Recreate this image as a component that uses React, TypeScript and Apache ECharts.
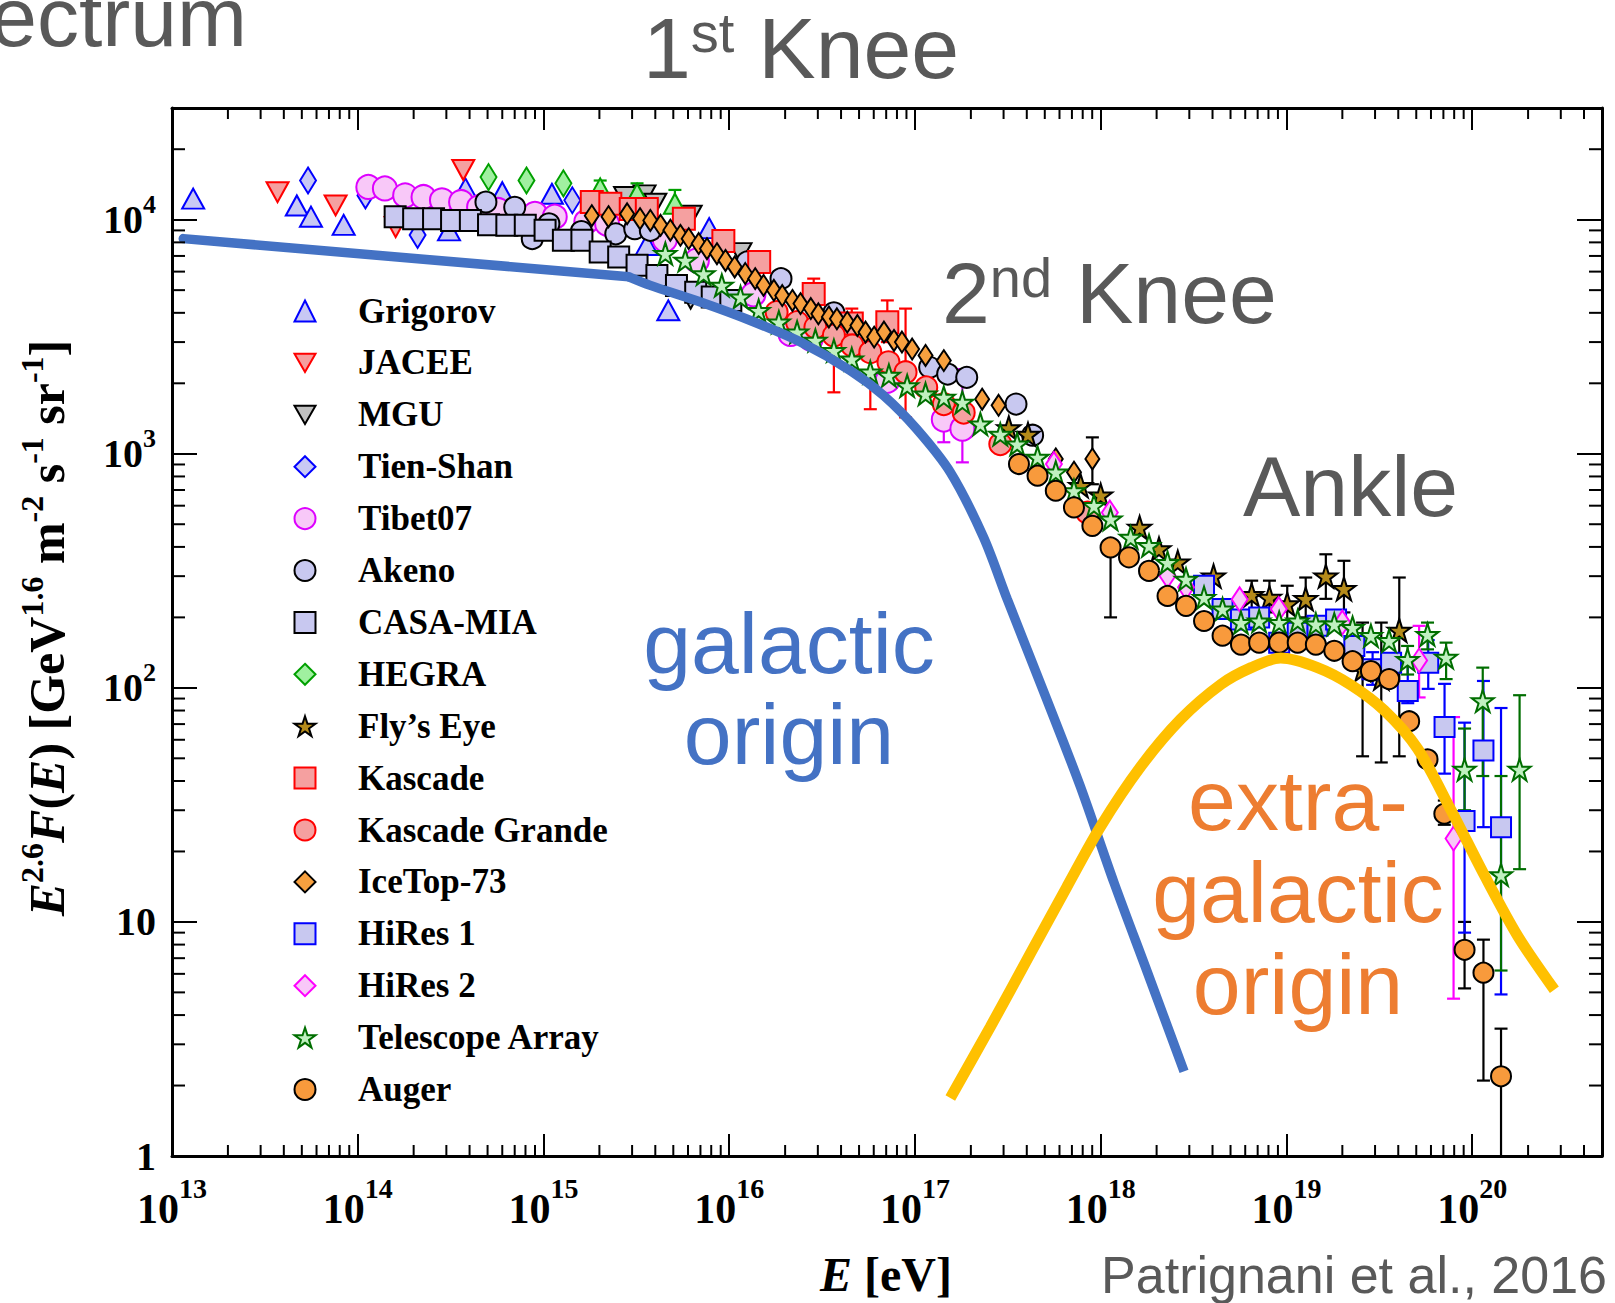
import React, { useEffect, useRef } from "react";
import * as echarts from "echarts";

const SERIF = "'Liberation Serif', 'Times New Roman', serif";
const SANS = "'Liberation Sans', Arial, sans-serif";
const GRAY = "#595959";

const X_MIN = 1e13;
const X_MAX = 5e20;
const Y_MIN = 1;
const Y_MAX = 3e4;

// Measurements: [E (eV), E^2.6 F(E)]
const grigorov = [[1.3e13, 12300], [4.7e13, 11500], [5.6e13, 10300], [8.4e13, 9500], [3.1e14, 9000], [3.8e14, 13600], [6.0e14, 13100], [1.11e15, 12900], [3.6e15, 7800], [4.7e15, 4100], [7.8e15, 9200]];
const jacee = [[3.7e13, 13100], [7.6e13, 11500], [1.6e14, 9300], [3.7e14, 16300]];
const mgu = [[2.75e15, 12500], [3.5e15, 12700], [4.0e15, 11700], [6.2e15, 10400], [6.2e15, 4600], [1.15e16, 7200]];
const tienShan = [[5.4e13, 14700], [1.1e14, 12700], [2.1e14, 8600], [1.43e15, 12100]];
const tibet07 = [[1.14e14, 13800], [1.4e14, 13600], [1.8e14, 12700], [2.26e14, 12500], [2.84e14, 12100], [3.6e14, 11900], [4.5e14, 11300], [5.7e14, 11000], [9.0e14, 10600], [1.15e15, 10300], [1.7e15, 9800], [2.2e15, 9600], [4.5e15, 8200], [6.7e15, 6700], [1.35e16, 4800], [2.14e16, 3250], [2.75e16, 3100], [7.1e16, 2050], [1.43e17, 1400], [1.8e17, 1280]];
const akeno = [[4.9e14, 11900], [7.0e14, 11300], [8.7e14, 8300], [1.07e15, 9600], [1.6e15, 8900], [2.45e15, 8700], [3.1e15, 9150], [3.76e15, 9000], [1.25e16, 6600], [1.9e16, 5600], [3.66e16, 4000], [1.2e17, 2340], [1.5e17, 2190], [1.9e17, 2120], [3.5e17, 1630], [4.3e17, 1200]];
const casaMia = [[1.59e14, 10300], [2.0e14, 10100], [2.56e14, 10100], [3.2e14, 9930], [4.04e14, 9930], [5.06e14, 9520], [6.35e14, 9460], [7.98e14, 9460], [1.02e15, 9010], [1.28e15, 8170], [1.61e15, 8170], [2.02e15, 7280], [2.54e15, 6920], [3.19e15, 6380], [4.08e15, 5780], [5.2e15, 5240], [6.6e15, 4900], [8.1e15, 4670], [1.02e16, 4520]];
const hegra = [[5.06e14, 15200], [8.1e14, 14700], [1.28e15, 14300]];
const hegraTriangles = [[2.02e15, 13600], [3.19e15, 12900], [5.1e15, 11700]];
const flysEye = [[3.2e17, 1290], [4.06e17, 1210], [7.8e17, 730], [1.0e18, 665], [1.62e18, 484], [2.06e18, 392], [2.6e18, 344], [4.05e18, 300], [6.5e18, 250], [8.1e18, 243], [1.01e19, 228], [1.27e19, 240], [1.63e19, 300], [2.04e19, 265], [2.57e19, 120], [3.24e19, 110], [4.05e19, 176]];
const kascade = [[1.82e15, 11900], [2.29e15, 11700], [2.95e15, 11100], [3.6e15, 11100], [5.7e15, 10100], [9.3e15, 8100], [1.45e16, 6600], [2.85e16, 4820], [4.57e16, 3600], [7.1e16, 3650]];
const kascadeGrande = [[1.8e16, 4030], [2.32e16, 3650], [2.91e16, 3470], [3.66e16, 3200], [4.6e16, 2900], [5.75e16, 2715], [7.2e16, 2460], [8.9e16, 2230], [1.15e17, 1920], [1.43e17, 1630], [1.83e17, 1500], [2.88e17, 1100], [8.5e17, 560]];
const iceTop73 = [[1.82e15, 10400], [2.24e15, 10300], [2.82e15, 10600], [3.31e15, 10100], [3.76e15, 9930], [4.27e15, 9460], [4.82e15, 9020], [5.46e15, 8570], [6.05e15, 8300], [6.85e15, 7910], [7.59e15, 7520], [8.59e15, 7160], [9.55e15, 6700], [1.07e16, 6280], [1.22e16, 5890], [1.38e16, 5600], [1.53e16, 5240], [1.74e16, 4990], [1.93e16, 4740], [2.19e16, 4520], [2.42e16, 4380], [2.75e16, 4170], [3.02e16, 3960], [3.44e16, 3840], [3.8e16, 3770], [4.32e16, 3650], [4.9e16, 3530], [5.42e16, 3310], [6.03e16, 3150], [6.81e16, 3310], [7.71e16, 3050], [8.51e16, 3000], [9.66e16, 2800], [1.14e17, 2630], [1.43e17, 2500], [2.3e17, 1710], [2.82e17, 1610], [5.73e17, 950], [7.18e17, 834], [9.02e17, 950]];
const hiRes1 = [[3.6e18, 273], [4.53e18, 217], [5.69e18, 196], [7.13e18, 200], [9.14e18, 156], [1.15e19, 172], [1.47e19, 184], [1.85e19, 196], [2.32e19, 151], [2.91e19, 120], [3.66e19, 128], [4.5e19, 97], [5.8e19, 128], [7.1e19, 68], [9.1e19, 27], [1.15e20, 54], [1.43e20, 25.4]];
const hiRes2 = [[5.6e17, 904], [1.12e18, 561], [2.29e18, 301], [2.88e18, 269], [5.6e18, 239], [9.1e18, 217], [2.0e19, 190], [5.18e19, 131], [7.94e19, 22.7]];
const telescopeArray = [[4.53e15, 7160], [5.8e15, 6700], [7.28e15, 5870], [9.12e15, 5240], [1.15e16, 4670], [1.44e16, 4090], [1.85e16, 3650], [2.32e16, 3310], [2.91e16, 3050], [3.66e16, 2760], [4.57e16, 2540], [5.75e16, 2230], [7.24e16, 2160], [9.08e16, 1950], [1.14e17, 1800], [1.43e17, 1740], [1.8e17, 1660], [2.25e17, 1340], [2.88e17, 1210], [3.55e17, 1100], [4.57e17, 966], [5.73e17, 834], [7.18e17, 695], [9.2e17, 600], [1.13e18, 526], [1.45e18, 439], [1.82e18, 405], [2.29e18, 343], [2.88e18, 291], [3.6e18, 243], [4.53e18, 217], [5.69e18, 190], [7.13e18, 193], [9.14e18, 190], [1.15e19, 193], [1.44e19, 187], [1.81e19, 187], [2.27e19, 181], [2.85e19, 167], [3.57e19, 159], [4.49e19, 132], [5.75e19, 169], [7.24e19, 135], [9.1e19, 44.8], [1.14e20, 88], [1.43e20, 15.9], [1.8e20, 44.8]];
const auger = [[3.63e17, 904], [4.57e17, 806], [5.73e17, 695], [7.18e17, 590], [9.02e17, 492], [1.13e18, 398], [1.42e18, 361], [1.82e18, 316], [2.29e18, 247], [2.88e18, 224], [3.6e18, 193], [4.53e18, 167], [5.69e18, 153], [7.13e18, 156], [9.14e18, 156], [1.15e19, 156], [1.44e19, 153], [1.81e19, 144], [2.27e19, 130], [2.85e19, 118], [3.57e19, 109], [4.58e19, 72], [5.75e19, 49.5], [7.08e19, 29], [9.1e19, 7.6], [1.15e20, 6.07], [1.43e20, 2.19]];

// Uncertainties: [E, low, high]
const hegraTrianglesErr = [[2.02e15, 12600, 14700], [3.19e15, 12000, 14300], [5.1e15, 10800, 13400]];
const kascadeErr = [[2.85e16, 4200, 5600], [4.57e16, 3100, 4170], [7.1e16, 3000, 4520]];
const kascadeGrandeErr = [[3.66e16, 1830, 3600], [5.75e16, 1550, 3100], [8.9e16, 1430, 4170]];
const tibet07Err = [[1.43e17, 1120, 1700], [1.8e17, 919, 2300]];
const iceTop73Err = [[9.02e17, 741, 1175]];
const flysEyeErr = [[6.5e18, 215, 287], [8.1e18, 210, 287], [1.01e19, 195, 273], [1.27e19, 200, 296], [1.63e19, 240, 372], [2.04e19, 210, 349], [2.57e19, 51, 190], [3.24e19, 48, 190], [4.05e19, 51, 296]];
const augerErr = [[1.13e18, 200, 398], [7.08e19, 26, 33], [9.1e19, 5.2, 10], [1.15e20, 2.1, 8.4], [1.43e20, 1, 3.5]];
const hiRes1Err = [[2.91e19, 103, 142], [4.5e19, 86, 127], [5.8e19, 99, 160], [7.1e19, 43, 104], [9.1e19, 9, 71], [1.15e20, 25.4, 107], [1.43e20, 4.9, 82]];
const hiRes2Err = [[5.18e19, 91, 184], [7.94e19, 4.7, 75]];
const telescopeArrayErr = [[4.49e19, 114, 151], [5.75e19, 146, 190], [7.24e19, 109, 156], [9.1e19, 30, 67], [1.14e20, 42, 122], [1.43e20, 6.2, 42], [1.8e20, 16.8, 93]];

// Model components
const galacticBelowKnee = [[1.15e13, 8300], [2.88e15, 5700]];
const galacticAboveKnee = [[2.88e15, 5700], [3.76e15, 5240], [7.0e15, 4450], [1.3e16, 3710], [2.42e16, 3000], [4.5e16, 2265], [6.8e16, 1770], [1.02e17, 1277], [1.55e17, 834], [2.34e17, 440], [3.14e17, 239], [5.13e17, 89], [7.76e17, 38], [1.18e18, 14.7], [1.79e18, 6.05], [2.81e18, 2.3]];
const extragalactic = [[1.55e17, 1.77], [2.55e17, 3.57], [4.2e17, 7.37], [6.6e17, 14.2], [1.0e18, 25.6], [1.64e18, 46], [2.69e18, 73.3], [4.44e18, 103.5], [6.46e18, 122], [9.3e18, 134], [1.47e19, 122], [2.22e19, 103], [3.37e19, 80], [5.08e19, 55], [7.7e19, 30], [1.16e20, 15.9], [1.76e20, 8.7], [2.77e20, 5.13]];

// Axis decoration
const minorMultipliers = [2, 3, 4, 5, 6, 7, 8, 9];
const xDecades = [13, 14, 15, 16, 17, 18, 19, 20];
const yDecades = [0, 1, 2, 3, 4];

const STAR = "path://M50,0L61.2,34.5L97.6,34.5L68.2,55.9L79.4,90.5L50,69.1L20.6,90.5L31.8,55.9L2.4,34.5L38.8,34.5Z";
const DOWN_TRI = "path://M0,0L20,0L10,17.3Z";

const scatter = (name: string, data: number[][], symbol: string, size: any, fill: string, stroke: string) => ({
  name,
  type: "scatter",
  data,
  symbol,
  symbolSize: size,
  itemStyle: { color: fill, borderColor: stroke, borderWidth: 2, opacity: 1 },
  emphasis: { disabled: true },
  silent: true,
});

const errorBars = (data: number[][], color: string) => ({
  type: "custom",
  data,
  encode: { x: 0, y: [1, 2] },
  silent: true,
  clip: true,
  renderItem: (params: any, api: any) => {
    const x = api.value(0);
    const lo = api.value(1);
    const hi = api.value(2);
    const pLo = api.coord([x, lo]);
    const pHi = api.coord([x, hi]);
    const style = { stroke: color, lineWidth: 2.2, fill: null };
    const cap = 6.5;
    const children: any[] = [
      { type: "line", shape: { x1: pLo[0], y1: pLo[1], x2: pHi[0], y2: pHi[1] }, style },
      { type: "line", shape: { x1: pHi[0] - cap, y1: pHi[1], x2: pHi[0] + cap, y2: pHi[1] }, style },
    ];
    if (lo > Y_MIN) {
      children.push({ type: "line", shape: { x1: pLo[0] - cap, y1: pLo[1], x2: pLo[0] + cap, y2: pLo[1] }, style });
    }
    return { type: "group", children };
  },
});

const minorTicks: number[][] = [];
xDecades.forEach((d) =>
  minorMultipliers.forEach((m) => {
    const v = m * Math.pow(10, d);
    if (v < X_MAX) minorTicks.push([v, Y_MIN, 0]);
  })
);
yDecades.forEach((d) =>
  minorMultipliers.forEach((m) => {
    const v = m * Math.pow(10, d);
    if (v < Y_MAX) minorTicks.push([X_MIN, v, 1]);
  })
);

const powerOfTen = (v: number) => {
  const l = Math.log10(v);
  const e = Math.round(l);
  return Math.abs(l - e) < 1e-3 ? e : null;
};

const labelRich = (base: number, sup: number, baseLH: number, supLH: number) => ({
  b: { fontFamily: SERIF, fontWeight: "bold", fontSize: base, lineHeight: baseLH, color: "#000" },
  s: { fontFamily: SERIF, fontWeight: "bold", fontSize: sup, lineHeight: supLH, color: "#000", verticalAlign: "top" },
});

const kneeRich = {
  b: { fontFamily: SANS, fontSize: 86, lineHeight: 88, fill: GRAY },
  s: { fontFamily: SANS, fontSize: 56, lineHeight: 56, fill: GRAY, verticalAlign: "top" },
};

const legendNames = ["Grigorov", "JACEE", "MGU", "Tien-Shan", "Tibet07", "Akeno", "CASA-MIA", "HEGRA", "Fly\u2019s Eye", "Kascade", "Kascade Grande", "IceTop-73", "HiRes 1", "HiRes 2", "Telescope Array", "Auger"];

function buildOption() {
  const axisCommon = {
    type: "log",
    logBase: 10,
    splitLine: { show: false },
    minorTick: { show: false },
    axisLine: { show: true, onZero: false, lineStyle: { color: "#000", width: 3 } },
  };
  return {
    animation: false,
    backgroundColor: "#fff",
    textStyle: { fontFamily: SERIF },
    grid: { left: 172, right: 13, top: 108, bottom: 147, containLabel: false },
    xAxis: [
      {
        ...axisCommon,
        min: X_MIN,
        max: X_MAX,
        position: "bottom",
        axisTick: { show: true, inside: true, length: 22, lineStyle: { color: "#000", width: 2 } },
        axisLabel: {
          margin: 18,
          formatter: (v: number) => {
            const e = powerOfTen(v);
            return e === null ? "" : `{b|10}{s|${e}}`;
          },
          rich: labelRich(42, 28, 69, 28),
        },
      },
      {
        ...axisCommon,
        min: X_MIN,
        max: X_MAX,
        position: "top",
        axisTick: { show: true, inside: true, length: 22, lineStyle: { color: "#000", width: 2 } },
        axisLabel: { show: false },
      },
    ],
    yAxis: [
      {
        ...axisCommon,
        min: Y_MIN,
        max: Y_MAX,
        position: "left",
        axisTick: { show: true, inside: true, length: 25, lineStyle: { color: "#000", width: 2 } },
        axisLabel: {
          margin: 16,
          formatter: (v: number) => {
            const e = powerOfTen(v);
            if (e === null) return "";
            if (e === 0) return "{b|1}";
            if (e === 1) return "{b|10}";
            return `{b|10}{s|${e}}`;
          },
          rich: labelRich(40, 26, 57, 26),
        },
      },
      {
        ...axisCommon,
        min: Y_MIN,
        max: Y_MAX,
        position: "right",
        axisTick: { show: true, inside: true, length: 25, lineStyle: { color: "#000", width: 2 } },
        axisLabel: { show: false },
      },
    ],
    legend: {
      orient: "vertical",
      left: 293.5,
      top: 293.5,
      padding: 0,
      itemWidth: 21,
      itemHeight: 21,
      itemGap: 16.9,
      selectedMode: false,
      data: legendNames,
      itemStyle: { borderWidth: 2 },
      formatter: (name: string) => "{g|}" + name,
      textStyle: {
        fontFamily: SERIF,
        fontWeight: "bold",
        fontSize: 35,
        lineHeight: 35,
        color: "#000",
        rich: { g: { width: 37.5 } },
      },
    },
    series: [
      {
        type: "line",
        data: galacticBelowKnee,
        symbol: "none",
        silent: true,
        lineStyle: { color: "#4472c4", width: 9.5, cap: "round" },
      },
      {
        type: "line",
        data: galacticAboveKnee,
        symbol: "none",
        smooth: 0.3,
        silent: true,
        lineStyle: { color: "#4472c4", width: 9.5 },
      },
      {
        type: "line",
        data: extragalactic,
        symbol: "none",
        smooth: 0.3,
        silent: true,
        lineStyle: { color: "#ffc000", width: 11 },
      },
      errorBars(hegraTrianglesErr, "#00a000"),
      errorBars(kascadeErr, "#ff0000"),
      errorBars(kascadeGrandeErr, "#ff0000"),
      errorBars(tibet07Err, "#dd00ff"),
      errorBars(iceTop73Err, "#000"),
      errorBars(flysEyeErr, "#000"),
      errorBars(augerErr, "#000"),
      errorBars(hiRes1Err, "#0000ff"),
      errorBars(hiRes2Err, "#ff00ff"),
      errorBars(telescopeArrayErr, "#006e00"),
      scatter("Grigorov", grigorov, "triangle", [22, 20], "#c8c8f4", "#0000ff"),
      scatter("JACEE", jacee, DOWN_TRI, [22, 20], "#f5a0a0", "#ff0000"),
      scatter("MGU", mgu, DOWN_TRI, [22, 20], "#c0c0c0", "#000"),
      scatter("Tien-Shan", tienShan, "diamond", [16, 26], "#c8c8f4", "#0000ff"),
      scatter("Tibet07", tibet07, "circle", 24, "#f8c8f8", "#dd00ff"),
      scatter("Akeno", akeno, "circle", 21, "#c8c8f0", "#000"),
      scatter("CASA-MIA", casaMia, "rect", 21, "#c8c8f0", "#000"),
      scatter("HEGRA", hegra, "diamond", [16, 26], "#a0f0a0", "#00a000"),
      scatter("HEGRA triangles", hegraTriangles, "triangle", [22, 20], "#a0f0a0", "#00a000"),
      scatter("Fly\u2019s Eye", flysEye, STAR, 23, "#b58b1a", "#000"),
      scatter("Kascade", kascade, "rect", 22, "#f5a0a0", "#ff0000"),
      scatter("Kascade Grande", kascadeGrande, "circle", 22, "#f5a0a0", "#ff0000"),
      scatter("IceTop-73", iceTop73, "diamond", [14, 21], "#f7a03f", "#000"),
      scatter("HiRes 1", hiRes1, "rect", 20, "#c8c8f0", "#0000ff"),
      scatter("HiRes 2", hiRes2, "diamond", [16, 24], "#f8c8f8", "#ff00ff"),
      scatter("Telescope Array", telescopeArray, STAR, 22, "#c0f0c0", "#006e00"),
      scatter("Auger", auger, "circle", 20, "#f89a3c", "#000"),
      {
        type: "custom",
        data: minorTicks,
        encode: { x: 0, y: 1 },
        silent: true,
        clip: false,
        z: 10,
        renderItem: (params: any, api: any) => {
          const cs = params.coordSys;
          const style = { stroke: "#000", lineWidth: 2 };
          if (api.value(2) === 0) {
            const px = api.coord([api.value(0), Y_MIN])[0];
            const b = cs.y + cs.height;
            return {
              type: "group",
              children: [
                { type: "line", shape: { x1: px, y1: b, x2: px, y2: b - 11 }, style },
                { type: "line", shape: { x1: px, y1: cs.y, x2: px, y2: cs.y + 11 }, style },
              ],
            };
          }
          const py = api.coord([X_MIN, api.value(1)])[1];
          const r = cs.x + cs.width;
          return {
            type: "group",
            children: [
              { type: "line", shape: { x1: cs.x, y1: py, x2: cs.x + 13, y2: py }, style },
              { type: "line", shape: { x1: r, y1: py, x2: r - 13, y2: py }, style },
            ],
          };
        },
      },
    ],
    graphic: [
      {
        type: "text",
        x: 247,
        y: 17,
        style: { text: "ectrum", fontFamily: SANS, fontSize: 84, fill: GRAY, textAlign: "right", align: "right", textVerticalAlign: "middle", verticalAlign: "middle" },
      },
      {
        type: "text",
        x: 643,
        y: 4,
        style: {
          text: "{b|1}{s|st}{b| Knee}",
          textAlign: "left", align: "left", textVerticalAlign: "top", verticalAlign: "top",
          rich: kneeRich,
        },
      },
      {
        type: "text",
        x: 942,
        y: 249,
        style: {
          text: "{b|2}{s|nd}{b| Knee}",
          textAlign: "left", align: "left", textVerticalAlign: "top", verticalAlign: "top",
          rich: kneeRich,
        },
      },
      {
        type: "text",
        x: 1243,
        y: 442,
        style: { text: "Ankle", fontFamily: SANS, fontSize: 86, lineHeight: 88, fill: GRAY, textAlign: "left", align: "left", textVerticalAlign: "top", verticalAlign: "top" },
      },
      {
        type: "text",
        x: 789,
        y: 597,
        style: { text: "galactic\norigin", fontFamily: SANS, fontSize: 86, lineHeight: 91, fill: "#4472c4", textAlign: "center", align: "center", textVerticalAlign: "top", verticalAlign: "top" },
      },
      {
        type: "text",
        x: 1298,
        y: 754,
        style: { text: "extra-\ngalactic\norigin", fontFamily: SANS, fontSize: 86, lineHeight: 92, fill: "#ed7d31", textAlign: "center", align: "center", textVerticalAlign: "top", verticalAlign: "top" },
      },
      {
        type: "text",
        x: 1607,
        y: 1275,
        style: { text: "Patrignani et al., 2016", fontFamily: SANS, fontSize: 52, fill: GRAY, textAlign: "right", align: "right", textVerticalAlign: "middle", verticalAlign: "middle" },
      },
      {
        type: "text",
        x: 886,
        y: 1274,
        style: {
          text: "{i|E}{r| [eV]}",
          textAlign: "center", align: "center", textVerticalAlign: "middle", verticalAlign: "middle",
          rich: {
            i: { fontFamily: SERIF, fontWeight: "bold", fontStyle: "italic", fontSize: 48, lineHeight: 50, fill: "#000" },
            r: { fontFamily: SERIF, fontWeight: "bold", fontSize: 48, lineHeight: 50, fill: "#000" },
          },
        },
      },
      {
        type: "text",
        x: 47,
        y: 628,
        rotation: Math.PI / 2,
        style: {
          text: "{i|E}{s|2.6}{i|F}{r|(}{i|E}{r|) [GeV}{s|1.6}{r| m}{s|-2}{r| s}{s|-1}{r| sr}{s|-1}{r|]}",
          textAlign: "center", align: "center", textVerticalAlign: "middle", verticalAlign: "middle",
          rich: {
            i: { fontFamily: SERIF, fontWeight: "bold", fontStyle: "italic", fontSize: 50, lineHeight: 62, fill: "#000" },
            r: { fontFamily: SERIF, fontWeight: "bold", fontSize: 50, lineHeight: 62, fill: "#000" },
            s: { fontFamily: SERIF, fontWeight: "bold", fontSize: 32, lineHeight: 32, fill: "#000", verticalAlign: "top" },
          },
        },
      },
    ],
  };
}

export default function App() {
  const ref = useRef<HTMLDivElement>(null);
  useEffect(() => {
    if (!ref.current) return;
    const chart = echarts.init(ref.current, undefined, { renderer: "svg" });
    chart.setOption(buildOption() as any);
    return () => chart.dispose();
  }, []);
  return (
    <div
      ref={ref}
      style={{ position: "absolute", left: 0, top: 0, width: 1615, height: 1303, background: "#fff" }}
    />
  );
}
